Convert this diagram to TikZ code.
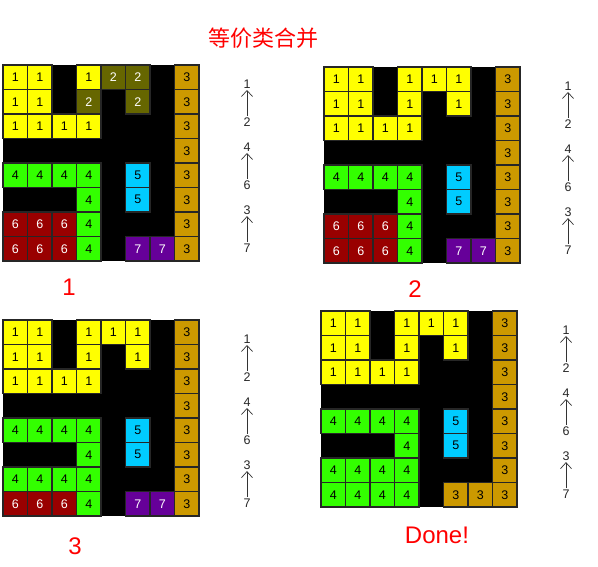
\documentclass[tikz,border=0pt]{standalone}
\usepackage{fontspec}
\setmainfont{Liberation Sans}
\newfontfamily\cjk{Noto Sans CJK SC}
\usepackage{tikz}
\usetikzlibrary{arrows.meta}
\usepackage{xcolor}

\definecolor{c1}{HTML}{FFFF00}
\definecolor{c2}{HTML}{666600}
\definecolor{c3}{HTML}{CC9900}
\definecolor{c4}{HTML}{33FF00}
\definecolor{c5}{HTML}{00CCFF}
\definecolor{c6}{HTML}{990000}
\definecolor{c7}{HTML}{660099}
\colorlet{t1}{black}
\colorlet{t2}{white}
\colorlet{t3}{black}
\colorlet{t4}{black}
\colorlet{t5}{black}
\colorlet{t6}{white}
\colorlet{t7}{white}

\tikzset{
  cell/.style={draw=black!85,line width=1.2pt,minimum size=24.5pt,inner sep=0pt,
    font=\fontsize{12.5}{12.5}\selectfont},
  pairlbl/.style={inner sep=1.5pt,text=black!85,font=\fontsize{12.5}{12.5}\selectfont},
  pairarrow/.style={-{Straight Barb[length=6pt,width=11pt]},black!80,line width=0.7pt},
  steplbl/.style={text=red,font=\fontsize{24}{24}\selectfont}
}

% grid: name, left, top, rows (0 = empty)
\newcommand{\cellgrid}[4]{%
  \fill[black] (#2,#3) rectangle ++(196,196);
  \foreach \row [count=\r] in {#4}{
    \foreach \v [count=\c] in \row{
      \ifnum\v>0
        \node[cell,fill=c\v,text=t\v] (#1-\r-\c) at ({#2+24.5*\c-12.25},{#3+24.5*\r-12.25}) {\v};
      \fi
    }}}
% merged pairs beside a grid
\newcommand{\pairlist}[3]{%
  \foreach \a/\b [count=\k] in {1/2,4/6,3/7}{
    \node[pairlbl] (#1-a\k) at (#2,{#3+19+63*(\k-1)}) {\a};
    \node[pairlbl] (#1-b\k) at (#2,{#3+57+63*(\k-1)}) {\b};
    \draw[pairarrow] (#1-b\k) -- (#1-a\k);
  }}

\begin{document}
\begin{tikzpicture}[x=1pt,y=-1pt]
\useasboundingbox (0,0) rectangle (598,567);

\node[text=red,font=\cjk\fontsize{22}{22}\selectfont] (title) at (263,38) {等价类合并};

\cellgrid{ga}{3}{65}{{1,1,0,1,2,2,0,3},{1,1,0,2,0,2,0,3},{1,1,1,1,0,0,0,3},{0,0,0,0,0,0,0,3},
  {4,4,4,4,0,5,0,3},{0,0,0,4,0,5,0,3},{6,6,6,4,0,0,0,3},{6,6,6,4,0,7,7,3}}
\cellgrid{gb}{324}{67}{{1,1,0,1,1,1,0,3},{1,1,0,1,0,1,0,3},{1,1,1,1,0,0,0,3},{0,0,0,0,0,0,0,3},
  {4,4,4,4,0,5,0,3},{0,0,0,4,0,5,0,3},{6,6,6,4,0,0,0,3},{6,6,6,4,0,7,7,3}}
\cellgrid{gc}{3}{320}{{1,1,0,1,1,1,0,3},{1,1,0,1,0,1,0,3},{1,1,1,1,0,0,0,3},{0,0,0,0,0,0,0,3},
  {4,4,4,4,0,5,0,3},{0,0,0,4,0,5,0,3},{4,4,4,4,0,0,0,3},{6,6,6,4,0,7,7,3}}
\cellgrid{gd}{321}{311}{{1,1,0,1,1,1,0,3},{1,1,0,1,0,1,0,3},{1,1,1,1,0,0,0,3},{0,0,0,0,0,0,0,3},
  {4,4,4,4,0,5,0,3},{0,0,0,4,0,5,0,3},{4,4,4,4,0,0,0,3},{4,4,4,4,0,3,3,3}}

\pairlist{pa}{247}{65}
\pairlist{pb}{568}{67}
\pairlist{pc}{247}{320}
\pairlist{pd}{566}{311}

\node[steplbl] (la) at (69,287) {1};
\node[steplbl] (lb) at (415,289) {2};
\node[steplbl] (lc) at (75,546) {3};
\node[steplbl] (ld) at (437,535) {Done!};
\end{tikzpicture}
\end{document}
